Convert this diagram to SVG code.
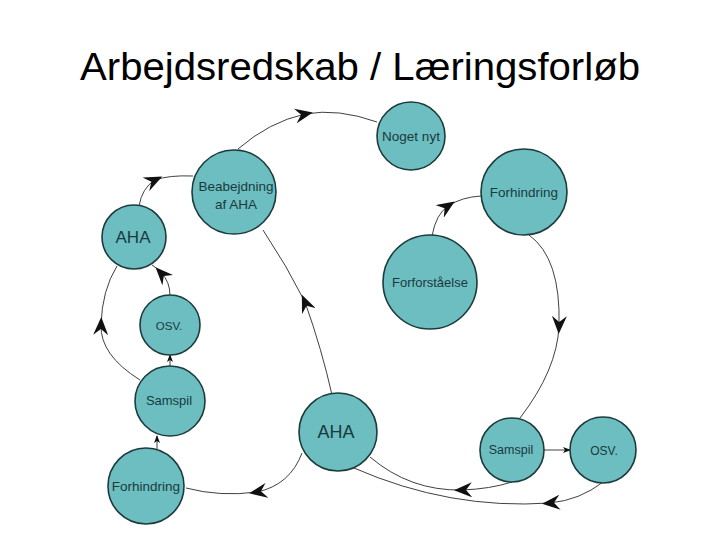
<svg xmlns="http://www.w3.org/2000/svg" width="720" height="540" viewBox="0 0 720 540">
<defs>
<style>
.node circle{fill:#6CBEC1;stroke:#1E3B3C;stroke-width:1.6}
.node text{font-family:"Liberation Sans",Arial,sans-serif;fill:#1B3A3D;text-anchor:middle}
.edge{fill:none;stroke:#2a2a2a;stroke-width:0.9}
.mid{marker-mid:url(#barb)}
.end{marker-end:url(#small)}
.title{font-family:"Liberation Sans",Arial,sans-serif;font-size:38px;fill:#000;text-anchor:middle}
</style>
<marker id="barb" viewBox="0 0 18 15" refX="10" refY="7.5" markerWidth="18" markerHeight="15" markerUnits="userSpaceOnUse" orient="auto">
<path d="M0,0 L18,7.5 L0,15 L6,7.5 Z" fill="#111"/>
</marker>
<marker id="small" viewBox="0 0 8 6" refX="7" refY="3" markerWidth="8" markerHeight="6" markerUnits="userSpaceOnUse" orient="auto">
<path d="M0,0 L8,3 L0,6 L2,3 Z" fill="#111"/>
</marker>
</defs>
<rect width="720" height="540" fill="#fff"/>
<text class="title" x="360" y="80" textLength="560" lengthAdjust="spacingAndGlyphs">Arbejdsredskab / Læringsforløb</text>
<g id="connectors">
<path class="edge mid" d="M238,149 Q269,122 305,114 Q338,108 377,122"/>
<path class="edge mid" d="M139,206 Q142,188 155,180 Q169,175 193,176"/>
<path class="edge mid" d="M332,395 Q322,350 305,302 Q287,266 263,230"/>
<path class="edge mid" d="M140,380 Q100,355 101,325 Q102,290 117,266"/>
<path class="edge mid" d="M170,296 Q170,281 161,273 Q157,268 152,265"/>
<path class="edge end" d="M170,366 L170,355"/>
<path class="edge end" d="M157,449 L157,436"/>
<path class="edge mid" d="M302,453 Q290,485 257,492 Q220,497 186,488"/>
<path class="edge mid" d="M432,236 Q436,214 448,206 Q462,197 481,196"/>
<path class="edge mid" d="M529,235 Q561,258 559,326 Q557,370 520,418"/>
<path class="edge end" d="M544,450 L570,450"/>
<path class="edge mid" d="M512,482 Q490,489 462,490 Q410,491 370,457"/>
<path class="edge mid" d="M603,482 Q580,500 550,503 Q450,510 354,468"/>
</g>
<g id="noget-nyt" class="node"><circle cx="411" cy="136" r="34"/><text x="411" y="141" font-size="13.5">Noget nyt</text></g>
<g id="forhindring-top" class="node"><circle cx="524" cy="192" r="43"/><text x="524" y="197" font-size="13.5">Forhindring</text></g>
<g id="forforstaaelse" class="node"><circle cx="430" cy="282" r="47"/><text x="430" y="287" font-size="13">Forforståelse</text></g>
<g id="beabejdning" class="node"><circle cx="234" cy="192" r="42"/><text x="236" y="191" font-size="13.5">Beabejdning</text><text x="236" y="209" font-size="13.5">af AHA</text></g>
<g id="aha-left" class="node"><circle cx="134" cy="237" r="32"/><text x="133" y="243" font-size="17">AHA</text></g>
<g id="osv-left" class="node"><circle cx="170" cy="325" r="30"/><text x="169" y="330" font-size="11.5">OSV.</text></g>
<g id="samspil-left" class="node"><circle cx="170" cy="401" r="35"/><text x="169" y="405" font-size="13">Samspil</text></g>
<g id="forhindring-bottom" class="node"><circle cx="146" cy="486" r="38"/><text x="146" y="491" font-size="13.5">Forhindring</text></g>
<g id="aha-center" class="node"><circle cx="338" cy="432" r="39"/><text x="336" y="438" font-size="18">AHA</text></g>
<g id="samspil-right" class="node"><circle cx="512" cy="450" r="32"/><text x="511" y="454" font-size="12.5">Samspil</text></g>
<g id="osv-right" class="node"><circle cx="603" cy="450" r="33"/><text x="604" y="455" font-size="12">OSV.</text></g>
</svg>
